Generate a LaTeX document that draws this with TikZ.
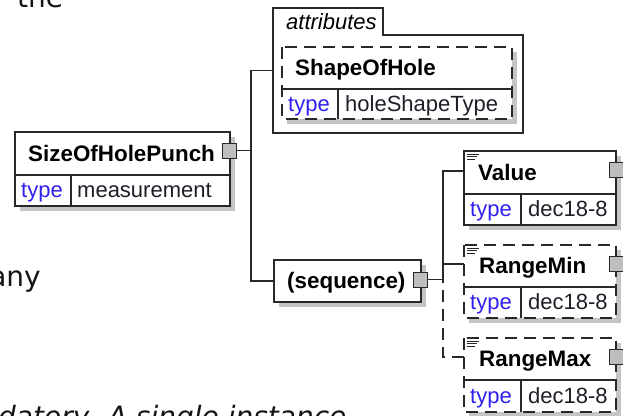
\documentclass[tikz,border=0pt]{standalone}
\usepackage{fontspec}
\setmainfont{Liberation Sans}
\newfontfamily\bgfont{DejaVu Sans}
\usetikzlibrary{backgrounds}
\definecolor{linec}{RGB}{40,40,40}
\definecolor{shadowc}{RGB}{196,196,196}
\definecolor{typec}{RGB}{48,32,240}
\definecolor{valc}{RGB}{30,30,40}
\definecolor{expc}{RGB}{190,190,190}
\definecolor{bgtext}{RGB}{20,20,20}
\begin{document}
\begin{tikzpicture}[x=1pt,y=-1pt,
  boxfill/.style={fill=white, inner sep=0pt, outer sep=0pt, anchor=north west},
  solidbox/.style={draw=linec, line width=1.3pt},
  dashbox/.style={draw=linec, line width=1.3pt, dash pattern=on 12pt off 7pt},
  sepline/.style={draw=linec, line width=1.3pt},
  shadowbox/.style={fill=shadowc},
  htext/.style={anchor=base west, inner sep=0pt, font=\fontsize{22.4}{26}\selectfont\bfseries, text=black},
  itext/.style={anchor=base west, inner sep=0pt, font=\fontsize{22}{26}\selectfont\itshape, text=black},
  ktext/.style={anchor=base west, inner sep=0pt, font=\fontsize{22}{26}\selectfont, text=typec},
  vtext/.style={anchor=base west, inner sep=0pt, font=\fontsize{22}{26}\selectfont, text=valc},
  expnd/.style={draw=linec, fill=expc, line width=1pt, minimum width=14pt, minimum height=15pt, inner sep=0pt},
  conn/.style={draw=linec, line width=1.3pt},
  dconn/.style={draw=linec, line width=1.3pt, dash pattern=on 12pt off 7pt},
  iconl/.style={draw=linec, line width=0.9pt},
  bgt/.style={inner sep=0pt, text=bgtext},
]
\useasboundingbox (0,0) rectangle (623,415);
\begin{scope}
\clip (0,0) rectangle (623,415);

% background document text
\node[bgt, anchor=base west, font=\bgfont\fontsize{28}{34}\selectfont] (t1) at (17,7) {the};
\node[bgt, anchor=base east, font=\bgfont\fontsize{28}{34}\selectfont] (t2) at (41,286) {any};
\node[bgt, anchor=base west, font=\bgfont\itshape\fontsize{28}{34}\selectfont] (t3) at (-2,426) {datory. A single instance};

% ---------- SizeOfHolePunch ----------
\node[boxfill, minimum width=215pt, minimum height=43pt] (shp) at (15,132) {};
\node[boxfill, minimum width=56pt, minimum height=31pt] (shpk) at (shp.south west) {};
\node[boxfill, minimum width=159pt, minimum height=31pt] (shpv) at (shpk.north east) {};
\begin{pgfonlayer}{background}
\fill[shadowbox] ([shift={(5pt,-5pt)}]shp.north west) rectangle ([shift={(5pt,-5pt)}]shpv.south east);
\end{pgfonlayer}
\draw[solidbox] (shp.north west) rectangle (shpv.south east);
\draw[sepline] (shp.south west) -- (shp.south east);
\draw[sepline] (shpk.north east) -- (shpk.south east);
\node[htext] (shpt) at ([shift={(13pt,-7.5pt)}]shp.west) {SizeOfHolePunch};
\node[ktext] (shpkt) at ([shift={(6pt,-7pt)}]shpk.west) {type};
\node[vtext] (shpvt) at ([shift={(6pt,-7pt)}]shpv.west) {measurement};
\node[expnd] (shpx) at (229,150.5) {};

% ---------- attributes group ----------
\node[boxfill, fill=none, minimum width=250pt, minimum height=125pt] (attrgrp) at (273,8) {};
\draw[solidbox, fill=white] (attrgrp.south west) -- (attrgrp.north west) -- ++(110,0) -- ++(0,27)
  -- ([yshift=-27pt]attrgrp.north east) -- (attrgrp.south east) -- cycle;
\node[itext] (attrt) at ([shift={(13pt,-21pt)}]attrgrp.north west) {attributes};

% ---------- ShapeOfHole ----------
\node[boxfill, fill=none, minimum width=230pt, minimum height=42pt] (soh) at (282,47) {};
\node[boxfill, fill=none, minimum width=56pt, minimum height=30pt] (sohk) at (soh.south west) {};
\node[boxfill, fill=none, minimum width=174pt, minimum height=30pt] (sohv) at (sohk.north east) {};
\fill[shadowbox] ([shift={(5pt,-5pt)}]soh.north west) rectangle ([shift={(5pt,-5pt)}]sohv.south east);
\fill[white] (soh.north west) rectangle (sohv.south east);
\draw[dashbox] (soh.north west) rectangle (sohv.south east);
\draw[sepline] (soh.south west) -- (soh.south east);
\draw[sepline] (sohk.north east) -- (sohk.south east);
\node[htext] (soht) at ([shift={(13pt,-7.5pt)}]soh.west) {ShapeOfHole};
\node[ktext] (sohkt) at ([shift={(6pt,-7pt)}]sohk.west) {type};
\node[vtext] (sohvt) at ([shift={(7pt,-7pt)}]sohv.west) {holeShapeType};

% ---------- sequence ----------
\node[boxfill, minimum width=147pt, minimum height=42pt] (seq) at (274,260) {};
\begin{pgfonlayer}{background}
\fill[shadowbox] ([shift={(5pt,-5pt)}]seq.north west) rectangle ([shift={(5pt,-5pt)}]seq.south east);
\end{pgfonlayer}
\draw[solidbox] (seq.north west) rectangle (seq.south east);
\node[htext] (seqt) at ([shift={(13pt,-7.5pt)}]seq.west) {(sequence)};
\node[expnd] (seqx) at (420,279.5) {};

% ---------- Value ----------
\node[boxfill, minimum width=152pt, minimum height=43pt] (val) at (464,151) {};
\node[boxfill, minimum width=57pt, minimum height=31pt] (valk) at (val.south west) {};
\node[boxfill, minimum width=95pt, minimum height=31pt] (valv) at (valk.north east) {};
\begin{pgfonlayer}{background}
\fill[shadowbox] ([shift={(5pt,-5pt)}]val.north west) rectangle ([shift={(5pt,-5pt)}]valv.south east);
\end{pgfonlayer}
\draw[solidbox] (val.north west) rectangle (valv.south east);
\draw[sepline] (val.south west) -- (val.south east);
\draw[sepline] (valk.north east) -- (valk.south east);
\node[htext] (valt) at ([shift={(14pt,-7.5pt)}]val.west) {Value};
\node[ktext] (valkt) at ([shift={(6pt,-7pt)}]valk.west) {type};
\node[vtext] (valvt) at ([shift={(7pt,-7pt)}]valv.west) {dec18-8};
\node[expnd] (valx) at (616,169.5) {};

% ---------- RangeMin ----------
\node[boxfill, minimum width=152pt, minimum height=42pt] (rmin) at (464,245) {};
\node[boxfill, minimum width=57pt, minimum height=31pt] (rmink) at (rmin.south west) {};
\node[boxfill, minimum width=95pt, minimum height=31pt] (rminv) at (rmink.north east) {};
\begin{pgfonlayer}{background}
\fill[shadowbox] ([shift={(5pt,-5pt)}]rmin.north west) rectangle ([shift={(5pt,-5pt)}]rminv.south east);
\end{pgfonlayer}
\draw[dashbox] (rmin.north west) rectangle (rminv.south east);
\draw[sepline] (rmin.south west) -- (rmin.south east);
\draw[sepline] (rmink.north east) -- (rmink.south east);
\node[htext] (rmint) at ([shift={(15pt,-7.5pt)}]rmin.west) {RangeMin};
\node[ktext] (rminkt) at ([shift={(6pt,-7pt)}]rmink.west) {type};
\node[vtext] (rminvt) at ([shift={(7pt,-7pt)}]rminv.west) {dec18-8};
\node[expnd] (rminx) at (616,263.5) {};

% ---------- RangeMax ----------
\node[boxfill, minimum width=152pt, minimum height=42pt] (rmax) at (464,338) {};
\node[boxfill, minimum width=57pt, minimum height=32pt] (rmaxk) at (rmax.south west) {};
\node[boxfill, minimum width=95pt, minimum height=32pt] (rmaxv) at (rmaxk.north east) {};
\begin{pgfonlayer}{background}
\fill[shadowbox] ([shift={(5pt,-5pt)}]rmax.north west) rectangle ([shift={(5pt,-5pt)}]rmaxv.south east);
\end{pgfonlayer}
\draw[dashbox] (rmax.north west) rectangle (rmaxv.south east);
\draw[sepline] (rmax.south west) -- (rmax.south east);
\draw[sepline] (rmaxk.north east) -- (rmaxk.south east);
\node[htext] (rmaxt) at ([shift={(15pt,-7.5pt)}]rmax.west) {RangeMax};
\node[ktext] (rmaxkt) at ([shift={(6pt,-7pt)}]rmaxk.west) {type};
\node[vtext] (rmaxvt) at ([shift={(7pt,-7pt)}]rmaxv.west) {dec18-8};
\node[expnd] (rmaxx) at (616,356.5) {};

% annotation icons
\foreach \n in {val,rmin,rmax}{
  \draw[iconl] ([shift={(3pt,-3pt)}]\n.north west) -- ++(12,0)
               ([shift={(3pt,-5.5pt)}]\n.north west) -- ++(10,0)
               ([shift={(3pt,-8pt)}]\n.north west) -- ++(8,0);
}

% ---------- connectors ----------
\coordinate (j1) at (251,150.5);
\coordinate (j2) at (443,279.5);
\coordinate (j3) at (443,268);
\draw[conn] (shpx.east) -- (j1);
\draw[conn] (attrgrp.west) -| (j1);
\draw[conn] (seq.west) -| (j1);
\draw[dconn] ([yshift=2pt]rmax.west) -| (j3);
\draw[conn] (seqx.east) -- (j2);
\draw[conn] ([yshift=1.5pt]val.west) -| (j2);
\draw[conn] ([yshift=2pt]rmin.west) -| (j2);
\end{scope}
\end{tikzpicture}
\end{document}
